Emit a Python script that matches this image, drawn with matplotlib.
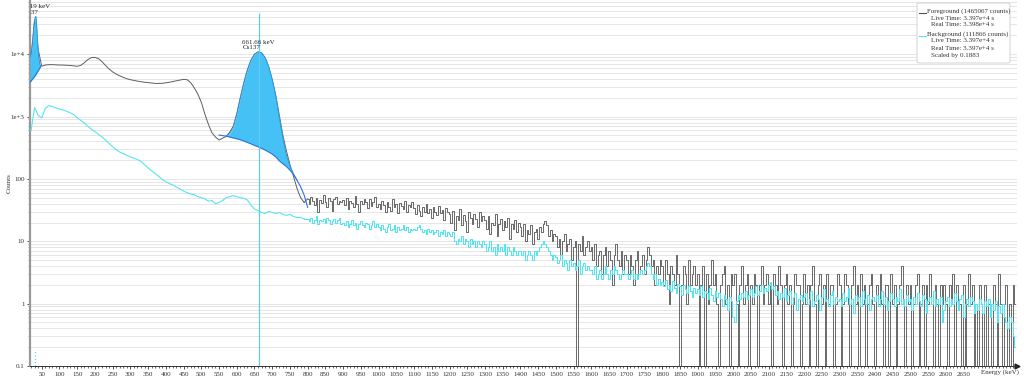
import numpy as np
import matplotlib.pyplot as plt
from matplotlib.patches import FancyBboxPatch
from matplotlib.ticker import FixedLocator, LogLocator, NullFormatter

plt.rcParams['font.family'] = ['Liberation Serif', 'DejaVu Serif']
plt.rcParams['font.size'] = 5

# channel energies (keV): 10 keV points below 800 keV, 5 keV channels above
low_energy = np.arange(20, 800, 10)
tail_energy = np.arange(800, 2800, 5)

# foreground counts, 20..790 keV
fg_low = [9000, 36000, 12000, 6400, 6700, 6800, 6800, 6750, 6700, 6700, 6650, 6600, 6500, 6400,
          6600, 7300, 8200, 8800, 8900, 8500, 7600, 6600, 5800, 5200, 4800, 4500, 4250, 4050, 3900,
          3800, 3700, 3620, 3550, 3500, 3450, 3400, 3400, 3420, 3480, 3550, 3650, 3750, 3850, 3950,
          3900, 3500, 2900, 2300, 1700, 1100, 750, 550, 470, 420, 450, 480, 560, 700, 1100,
          2000, 3500, 5600, 8000, 10000, 10900, 10500, 8800, 6300, 3900, 2200, 1050, 500, 280, 170, 110, 70, 50, 42]

# foreground counts, 800..2795 keV
fg_tail = [
    48, 40, 52, 44, 38, 50, 29, 46, 41, 55, 43, 36, 49, 45, 31, 47, 52, 39, 44, 42,
    46, 38, 50, 33, 44, 41, 36, 53, 40, 30, 45, 39, 48, 42, 34, 47, 37, 43, 51, 35,
    40, 33, 45, 38, 29, 42, 36, 31, 47, 35, 39, 28, 41, 37, 33, 44, 30, 38, 35, 42,
    34, 27, 38, 31, 25, 36, 29, 40, 28, 33, 24, 35, 30, 26, 37, 28, 32, 22, 34, 29,
    27, 20, 31, 15, 25, 22, 33, 18, 26, 21, 14, 29, 24, 19, 27, 23, 17, 30, 21, 25,
    22, 16, 25, 13, 20, 18, 27, 12, 19, 23, 15, 21, 17, 24, 11, 19, 16, 22, 14, 20,
    17, 12, 19, 10, 15, 13, 18, 9, 14, 16, 11, 17, 14, 19, 21, 18, 12, 15, 10, 13,
    12, 8, 11, 6, 10, 13, 7, 9, 11, 5, 8, 10, 0, 9, 7, 12, 6, 8, 10, 7,
    8, 5, 9, 4, 6, 7, 3, 6, 8, 4, 7, 5, 2, 6, 9, 5, 4, 7, 3, 6,
    5, 3, 6, 4, 2, 5, 7, 3, 4, 6, 3, 5, 8, 6, 4, 5, 2, 4, 3, 5,
    4, 2, 5, 3, 1, 4, 3, 2, 6, 3, 0, 2, 4, 3, 1, 5, 2, 3, 4, 2,
    3, 0, 2, 4, 0, 3, 1, 2, 5, 2, 3, 1, 0, 2, 3, 4, 1, 2, 0, 3,
    2, 3, 1, 0, 2, 4, 1, 2, 3, 0, 2, 1, 3, 2, 0, 2, 4, 1, 2, 3,
    1, 2, 0, 3, 2, 1, 4, 2, 0, 2, 3, 1, 2, 0, 1, 3, 2, 2, 0, 1,
    3, 1, 2, 0, 2, 4, 1, 0, 2, 3, 1, 2, 0, 3, 1, 2, 2, 0, 1, 3,
    2, 0, 1, 3, 2, 1, 0, 2, 4, 1, 2, 0, 3, 1, 2, 0, 1, 2, 3, 1,
    0, 2, 1, 3, 1, 0, 2, 2, 0, 3, 1, 2, 0, 1, 2, 4, 1, 0, 2, 1,
    2, 0, 1, 2, 3, 0, 1, 2, 0, 2, 1, 3, 1, 0, 2, 1, 0, 2, 1, 2,
    1, 0, 2, 1, 3, 0, 2, 1, 1, 0, 2, 0, 1, 3, 1, 2, 0, 1, 0, 2,
    1, 0, 2, 0, 1, 1, 0, 2, 1, 0, 3, 1, 0, 1, 2, 0, 1, 0, 2, 1]

# background (scaled) counts, 20..790 keV
bg_low = [600, 1400, 1050, 950, 1350, 1500, 1450, 1380, 1320, 1270, 1220, 1150, 1080, 960,
          870, 790, 700, 630, 570, 520, 470, 420, 370, 330, 295, 270, 255, 240, 225,
          215, 205, 190, 170, 150, 135, 122, 110, 98, 90, 84, 80, 74, 69, 64,
          60, 57, 56, 52, 50, 48, 44, 45, 40, 42, 45, 50, 52, 54, 52,
          50, 49, 46, 38, 33, 31, 29, 28, 30, 29, 28, 29, 27, 26, 27, 25, 24, 24, 23]

# background (scaled) counts, 800..2795 keV
bg_tail = [
    23, 21, 24, 20, 22, 25, 19, 22, 21, 23, 20, 24, 22, 19, 21, 23, 20, 22, 24, 19,
    20, 18, 21, 17, 19, 22, 18, 20, 16, 19, 21, 18, 17, 20, 19, 16, 18, 21, 17, 19,
    17, 15, 18, 16, 14, 17, 19, 15, 16, 18, 14, 17, 15, 16, 18, 15, 17, 14, 16, 15,
    16, 15, 17, 18, 16, 14, 15, 13, 16, 14, 15, 13, 14, 15, 12, 14, 13, 15, 12, 14,
    13, 12, 14, 10, 9, 11, 10, 12, 9, 11, 10, 8, 11, 9, 10, 8, 10, 9, 8, 10,
    9, 7, 8, 10, 7, 8, 6, 9, 7, 8, 7, 9, 6, 8, 7, 6, 8, 7, 6, 7,
    7, 6, 7, 5, 6, 7, 6, 5, 7, 6, 7, 8, 9, 10, 9, 8, 7, 6, 5, 6,
    5.5, 4.5, 5, 6, 4, 5, 4.5, 3.5, 5, 4, 4.5, 3.5, 4, 5, 3, 4, 4.5, 3.5, 4, 3.5,
    3.5, 3, 4, 2.5, 3, 3.5, 2.5, 3, 4, 3, 2.5, 3.5, 3, 4, 3.5, 3, 2.5, 3, 3.5, 3,
    3, 2.5, 3, 3.5, 2.5, 3, 2.5, 3, 3.5, 3, 3.5, 4, 4.5, 4, 3, 2.5, 3, 2, 2.5, 2,
    2.2, 1.9, 2.4, 1.7, 2, 1.6, 2.3, 1.8, 1.5, 2.1, 1.9, 1.4, 2, 1.7, 1.5, 1.9, 1.6, 1.3, 1.8, 1.5,
    1.7, 1.4, 1.9, 1.3, 1.6, 1.5, 1.2, 1.8, 1.4, 1.1, 1.6, 1.3, 1.5, 1.2, 0.9, 1.4, 1.2, 0.8, 1.3, 1.1,
    0.6, 0.5, 1.1, 1.4, 1.2, 1.5, 1.3, 1.6, 1.2, 1.4, 1.7, 1.3, 1.5, 1.9, 1.4, 1.6, 2.0, 1.5, 1.8, 1.6,
    2.0, 2.2, 1.7, 1.9, 1.4, 1.6, 1.2, 1.5, 1.3, 1.8, 1.1, 1.4, 1.6, 1.0, 1.3, 1.5, 0.8, 1.2, 1.4, 1.1,
    1.3, 1.5, 1.0, 1.2, 1.6, 0.9, 1.1, 1.4, 1.2, 0.8, 1.3, 1.7, 1.1, 1.2, 0.9, 1.4, 1.6, 1.0, 1.3, 1.1,
    1.2, 0.9, 1.5, 1.1, 1.3, 1.8, 1.0, 1.2, 0.7, 1.4, 1.1, 1.3, 0.9, 1.6, 1.2, 1.0, 1.4, 0.8, 1.2, 1.3,
    1.1, 1.4, 0.9, 1.2, 1.6, 1.0, 1.3, 0.8, 1.1, 1.5, 1.2, 0.9, 1.3, 1.1, 1.7, 1.0, 1.2, 0.9, 1.4, 1.1,
    1.2, 0.8, 1.3, 1.0, 1.5, 1.1, 0.9, 1.4, 1.2, 0.7, 1.1, 1.3, 1.0, 1.6, 0.9, 1.2, 1.0, 1.3, 0.5, 0.8,
    1.1, 1.3, 0.9, 1.2, 1.0, 1.5, 1.1, 0.8, 1.2, 1.4, 0.6, 1.0, 1.2, 0.9, 1.3, 1.1, 0.7, 1.0, 0.8, 1.2,
    1.0, 0.7, 1.1, 0.9, 1.2, 0.6, 1.0, 0.8, 1.1, 0.5, 0.9, 0.7, 1.0, 0.6, 0.5, 0.4, 0.6, 0.5, 0.3, 0.2]

# fitted peaks (peak + continuum, and continuum alone)
cs_energy = 661.66
cs_fit_energy = np.arange(570, 780, 10)
cs_fit_total = [495, 530, 660, 1100, 2000, 3500, 5600, 8000, 10000, 10900, 10500,
                8800, 6300, 3900, 2100, 950, 450, 240, 160, 120, 95]
cont_energy = np.arange(550, 810, 10)
cont_counts = [505, 495, 485, 470, 455, 440, 425, 405, 385, 365, 345, 328, 310,
               290, 270, 250, 225, 195, 175, 158, 138, 118, 95, 75, 55, 35]

xray_energy_peak = 32.19
xray_energy = [17, 22, 26, 29, 32, 34, 36, 39, 42, 45, 47]
xray_total = [9000, 12000, 20000, 32000, 40000, 40000, 28000, 14000, 8500, 6800, 6400]
xray_cont = [3550, 3850, 4100, 4300, 4550, 4700, 4950, 5300, 5650, 6050, 6300]

legend_lines = [
    ('Foreground (1465067 counts)', '#555555'),
    ('Live Time: 3.397e+4 s', None),
    ('Real Time: 3.398e+4 s', None),
    ('Background (111866 counts)', '#55e5f0'),
    ('Live Time: 3.397e+4 s', None),
    ('Real Time: 3.397e+4 s', None),
    ('Scaled by 0.1883', None),
]

W, H = 1024, 379
fig = plt.figure(figsize=(W / 100, H / 100), dpi=100)
ax = fig.add_axes([30 / W, 13 / H, 987 / W, 366 / H])

fg_col = '#5e5e5e'
bg_col = '#55e5f0'
# smooth low-energy part as a line, noisy tail as a histogram
ax.plot(low_energy, fg_low, color=fg_col, lw=0.7, zorder=3)
ax.plot([low_energy[-1], tail_energy[0]], [fg_low[-1], fg_tail[0]], color=fg_col, lw=0.7, zorder=3)
ax.step(tail_energy, np.array(fg_tail, dtype=float), where='mid', color=fg_col, lw=0.65, zorder=3)
ax.plot(low_energy, bg_low, color=bg_col, lw=0.8, zorder=4)
ax.plot([low_energy[-1], tail_energy[0]], [bg_low[-1], bg_tail[0]], color=bg_col, lw=0.8, zorder=4)
ax.step(tail_energy, bg_tail, where='mid', color=bg_col, lw=0.75, zorder=4)

# peak fills
fill_col = '#45c1f5'
edge_col = '#2f72e0'
cont_fill = cont_counts[2:2 + len(cs_fit_energy)]
ax.fill_between(cs_fit_energy, cont_fill, cs_fit_total, color=fill_col, lw=0, zorder=5)
ax.plot(cs_fit_energy, cs_fit_total, color='#2a95e0', lw=0.6, zorder=6)
ax.plot(cont_energy, cont_counts, color=edge_col, lw=0.8, zorder=6)
ax.fill_between(xray_energy, xray_cont, xray_total, color=fill_col, lw=0, zorder=5)
ax.plot(xray_energy, xray_total, color='#2a95e0', lw=0.6, zorder=6)
ax.plot(xray_energy, xray_cont, color=edge_col, lw=0.8, zorder=6)

ax.vlines(cs_energy, 0.1, 46000, color='#62c8f8', lw=0.9, zorder=7)
ax.vlines(xray_energy_peak, 0.1, 0.18, color='#55d5f0', lw=0.9, linestyles=':', zorder=7)

for e, top in [(cs_energy, 10900), (xray_energy_peak, 40000)]:
    t = ax.annotate('%.2f keV\nCs137' % e, xy=(e, top), xytext=(0, 1.5), textcoords='offset points',
                    ha='center', va='bottom', multialignment='left', fontsize=5, color='#222222',
                    linespacing=1.05, zorder=8)
    t.set_clip_on(True)
    t.set_clip_box(ax.bbox)

ax.set_yscale('log', nonpositive='clip')
ax.set_xlim(17, 2800)
ax.set_ylim(0.1, 7.4e4)

ax.set_yticks([0.1, 1, 10, 100, 1000, 10000])
ax.set_yticklabels(['0.1', '1', '10', '100', '1e+3', '1e+4'])
ax.yaxis.set_minor_locator(LogLocator(base=10, subs=np.arange(2, 10)))
ax.yaxis.set_minor_formatter(NullFormatter())
ax.grid(True, which='both', axis='y', color='#e6e6e6', lw=0.7, zorder=0)
ax.set_axisbelow(True)

ax.xaxis.set_major_locator(FixedLocator(np.arange(50, 2700, 50)))
ax.xaxis.set_minor_locator(FixedLocator(np.arange(20, 2800, 10)))
ax.tick_params(axis='x', which='major', length=2.5, width=0.6, pad=1.5, colors='#333333')
ax.tick_params(axis='x', which='minor', length=1.3, width=0.5, colors='#333333')
ax.tick_params(axis='y', which='major', length=2.5, width=0.6, pad=1.5, colors='#333333')
ax.tick_params(axis='y', which='minor', length=1.3, width=0.4, colors='#666666')

for s in ['top', 'right']:
    ax.spines[s].set_visible(False)
ax.spines['left'].set_color('#999999')
ax.spines['left'].set_linewidth(1.6)
ax.spines['bottom'].set_color('#333333')
ax.spines['bottom'].set_linewidth(0.7)
ax.plot([1], [0], marker='>', ms=3.5, color='#222222', transform=ax.transAxes, clip_on=False)

fig.text(9 / W, 1 - 183 / H, 'Counts', rotation=90, ha='center', va='center', fontsize=5, color='#333333')
ax.annotate('Energy (keV)', xy=(0.983, 0), xycoords='axes fraction', xytext=(0, -2),
            textcoords='offset points', ha='center', va='top', fontsize=5, color='#333333')

# legend box
box = FancyBboxPatch((917 / W, 1 - 63 / H), 93 / W, 60 / H, boxstyle='round,pad=0,rounding_size=0.003',
                     transform=fig.transFigure, facecolor='white', edgecolor='#cccccc', lw=0.6, zorder=10)
fig.patches.append(box)
y_pos = [11, 18, 25, 34, 41, 48, 55]
for (txt, col), yp in zip(legend_lines, y_pos):
    if col:
        fig.lines.append(plt.Line2D([919 / W, 926 / W], [1 - (yp + 2) / H] * 2, color=col, lw=0.8,
                                    transform=fig.transFigure, zorder=11))
        fig.text(927 / W, 1 - yp / H, txt, va='center', ha='left', fontsize=5, color='#333333', zorder=11)
    else:
        fig.text(931 / W, 1 - yp / H, txt, va='center', ha='left', fontsize=5, color='#333333', zorder=11)

fig.savefig('out.png', dpi=100)
